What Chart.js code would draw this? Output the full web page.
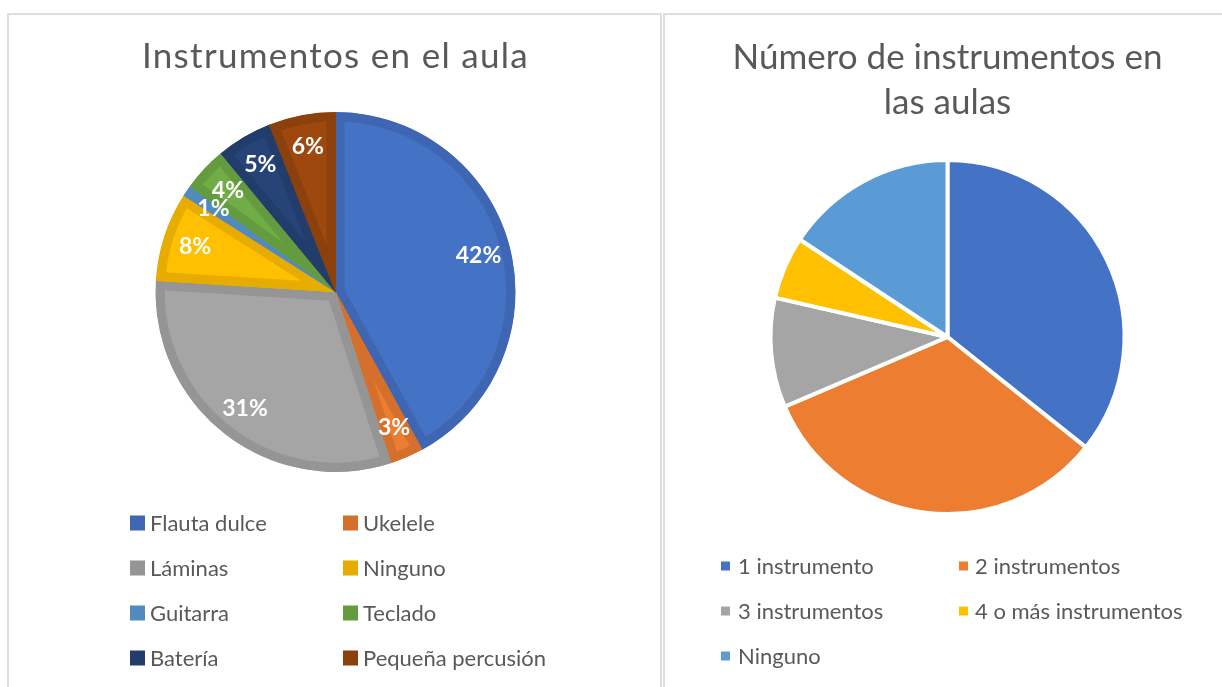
<!DOCTYPE html>
<html>
<head>
<meta charset="utf-8">
<script src="https://cdn.jsdelivr.net/npm/chart.js@4.4.1/dist/chart.umd.min.js"></script>
<style>
  body { margin: 0; background: #fff; width: 1222px; height: 687px; overflow: hidden; position: relative; }
  .panel { position: absolute; top: 13px; height: 700px; border: 2px solid #dedede; background: #fff; }
  #p1 { left: 7px; width: 651px; }
  #p2 { left: 663px; width: 600px; }
  canvas { display: block; }
</style>
</head>
<body>
<div class="panel" id="p1"><canvas id="c1" width="651" height="672"></canvas></div>
<div class="panel" id="p2"><canvas id="c2" width="557" height="672"></canvas></div>
<script>
const FONT = 'Lato, "Open Sans", sans-serif';

// chart 1: instruments in the classroom (percent)
const instLabels = ['Flauta dulce', 'Ukelele', 'Láminas', 'Ninguno', 'Guitarra', 'Teclado', 'Batería', 'Pequeña percusión'];
const instValues = [42, 3, 31, 8, 1, 4, 5, 6];
const instFill = ['#4472C4', '#ED7D31', '#A5A5A5', '#FFC000', '#5B9BD5', '#70AD47', '#264478', '#9E480E'];
const instEdge = ['#3F66B2', '#D4702C', '#959595', '#E6AC00', '#528AC0', '#649B3F', '#223D6B', '#8C400C'];

// chart 2: number of instruments per classroom (counts)
const numLabels = ['1 instrumento', '2 instrumentos', '3 instrumentos', '4 o más instrumentos', 'Ninguno'];
const numValues = [25, 23, 7, 4, 11];
const numFill = ['#4472C4', '#ED7D31', '#A5A5A5', '#FFC000', '#5B9BD5'];

Chart.defaults.font.family = FONT;

// percent labels inside the slices
const pctLabels = {
  id: 'pctLabels',
  afterDatasetsDraw(chart, args, opts) {
    const ctx = chart.ctx;
    const data = chart.data.datasets[0].data;
    const total = data.reduce((a, b) => a + b, 0);
    ctx.save();
    ctx.font = 'bold ' + opts.size + 'px ' + FONT;
    ctx.fillStyle = '#fff';
    ctx.textAlign = 'center';
    ctx.textBaseline = 'middle';
    chart.getDatasetMeta(0).data.forEach((arc, i) => {
      const p = arc.getProps(['x', 'y', 'startAngle', 'endAngle', 'outerRadius']);
      const mid = (p.startAngle + p.endAngle) / 2;
      const r = p.outerRadius * opts.ratio;
      ctx.fillText(Math.round(data[i] / total * 100) + '%', p.x + Math.cos(mid) * r, p.y + Math.sin(mid) * r);
    });
    ctx.restore();
  }
};

// two-column legend like the office one
const gridLegend = {
  id: 'gridLegend',
  afterDraw(chart, args, opts) {
    const ctx = chart.ctx;
    ctx.save();
    ctx.font = opts.size + 'px ' + FONT;
    ctx.textBaseline = 'middle';
    chart.data.labels.forEach((lab, i) => {
      const col = i % 2, row = Math.floor(i / 2);
      const y = opts.y + row * opts.gap;
      ctx.fillStyle = opts.colors[i];
      ctx.fillRect(opts.boxX[col], y - opts.box / 2, opts.box, opts.box);
      ctx.fillStyle = '#595959';
      ctx.fillText(lab, opts.textX[col], y + 1);
    });
    ctx.restore();
  }
};

// spaced-out title letters
const titleSpacing = {
  id: 'titleSpacing',
  beforeDraw(chart, args, opts) { chart.ctx.letterSpacing = opts.px + 'px'; },
  beforeDatasetsDraw(chart) { chart.ctx.letterSpacing = '0px'; }
};

new Chart(document.getElementById('c1'), {
  type: 'pie',
  data: {
    labels: instLabels,
    datasets: [{
      data: instValues,
      backgroundColor: instFill,
      borderColor: instEdge,
      borderWidth: 9,
      borderAlign: 'inner',
      hoverOffset: 0
    }]
  },
  plugins: [pctLabels, gridLegend, titleSpacing],
  options: {
    responsive: false,
    animation: false,
    devicePixelRatio: 1,
    radius: 180,
    layout: { padding: { left: 2, right: 0, top: 0, bottom: 215 } },
    plugins: {
      legend: { display: false },
      tooltip: { enabled: false },
      title: {
        display: true,
        text: 'Instrumentos en el aula',
        color: '#595959',
        font: { size: 35, weight: 'normal', lineHeight: 1.2 },
        padding: { top: 21, bottom: 34 }
      },
      titleSpacing: { px: 1.3 },
      pctLabels: { size: 23, ratio: 0.82 },
      gridLegend: { size: 22, box: 15, y: 508, gap: 45, boxX: [121, 334], textX: [141, 354], colors: instEdge }
    }
  }
});

new Chart(document.getElementById('c2'), {
  type: 'pie',
  data: {
    labels: numLabels,
    datasets: [{
      data: numValues,
      backgroundColor: numFill,
      borderColor: '#fff',
      borderWidth: 4,
      hoverOffset: 0
    }]
  },
  plugins: [gridLegend],
  options: {
    responsive: false,
    animation: false,
    devicePixelRatio: 1,
    radius: 177,
    layout: { padding: { left: 8, right: 0, top: 0, bottom: 170 } },
    plugins: {
      legend: { display: false },
      tooltip: { enabled: false },
      title: {
        display: true,
        text: ['Número de instrumentos en', 'las aulas'],
        color: '#595959',
        font: { size: 35, weight: 'normal', lineHeight: 1.286 },
        padding: { top: 20.5, bottom: 31.5 }
      },
      gridLegend: { size: 22, box: 9, y: 551, gap: 45, boxX: [56, 294], textX: [73, 310], colors: numFill }
    }
  }
});
</script>
</body>
</html>
